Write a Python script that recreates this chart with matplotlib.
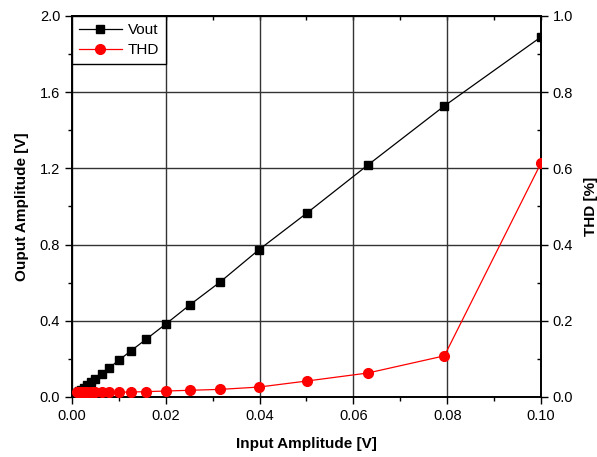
import matplotlib
matplotlib.use('Agg')
import matplotlib.pyplot as plt
from matplotlib.ticker import MultipleLocator, FormatStrFormatter, NullLocator

plt.rcParams['font.family'] = ['Liberation Sans', 'DejaVu Sans']

# input amplitude sweep [V]
vin = [0.001, 0.00126, 0.00158, 0.002, 0.00251, 0.00316, 0.00398, 0.00501,
       0.00631, 0.00794, 0.01, 0.0126, 0.0158, 0.02, 0.0251, 0.0316, 0.0398,
       0.0501, 0.0631, 0.0794, 0.1]
# output amplitude [V]
vout = [0.019, 0.024, 0.030, 0.038, 0.048, 0.061, 0.077, 0.097, 0.121, 0.153,
        0.193, 0.243, 0.303, 0.383, 0.483, 0.604, 0.772, 0.966, 1.218, 1.528,
        1.89]
# THD [%]
thd = [0.013, 0.013, 0.013, 0.013, 0.013, 0.013, 0.013, 0.013, 0.013, 0.0125,
       0.0126, 0.0131, 0.014, 0.0157, 0.0176, 0.020, 0.026, 0.042, 0.063,
       0.108, 0.614]

fig = plt.figure(figsize=(5.97, 4.57), dpi=100)
ax = fig.add_axes([0.1206, 0.1313, 0.7856, 0.8337])
ax2 = ax.twinx()

l1, = ax.plot(vin, vout, '-s', color='black', lw=0.9, ms=6, label='Vout', zorder=3)
l2, = ax2.plot(vin, thd, '-o', color='red', mec='red', lw=0.9, ms=7, label='THD', zorder=3)

ax.set_xlim(0, 0.1)
ax.set_ylim(0, 2.0)
ax2.set_ylim(0, 1.0)

ax.xaxis.set_major_locator(MultipleLocator(0.02))
ax.xaxis.set_minor_locator(MultipleLocator(0.01))
ax.yaxis.set_major_locator(MultipleLocator(0.4))
ax.yaxis.set_minor_locator(MultipleLocator(0.2))
ax2.yaxis.set_major_locator(MultipleLocator(0.2))
ax2.yaxis.set_minor_locator(MultipleLocator(0.1))
ax.xaxis.set_major_formatter(FormatStrFormatter('%.2f'))
ax.yaxis.set_major_formatter(FormatStrFormatter('%.1f'))
ax2.yaxis.set_major_formatter(FormatStrFormatter('%.1f'))

ax.grid(True, which='major', color='#333333', lw=1.0)
ax.set_axisbelow(True)

ax.tick_params(axis='both', which='major', direction='out', length=5, width=1,
               labelsize=10.5, top=False)
ax.tick_params(axis='both', which='minor', direction='out', length=3, width=1, top=False)
ax2.tick_params(axis='y', which='major', direction='out', length=5, width=1, labelsize=10.5)
ax2.tick_params(axis='y', which='minor', direction='in', length=3, width=1)

# inward minor ticks along the top edge
top = ax.secondary_xaxis('top')
top.xaxis.set_major_locator(NullLocator())
top.xaxis.set_minor_locator(MultipleLocator(0.01))
top.tick_params(which='minor', direction='in', length=3, width=1)
top.spines['top'].set_linewidth(1.2)

for a in (ax, ax2):
    for s in a.spines.values():
        s.set_linewidth(1.2)

ax.set_xlabel('Input Amplitude [V]', fontsize=11, fontweight='bold', labelpad=10)
ax.set_ylabel('Ouput Amplitude [V]', fontsize=11, fontweight='bold', labelpad=8)
ax2.set_ylabel('THD [%]', fontsize=11, fontweight='bold', labelpad=8)

leg = ax.legend(handles=[l1, l2], loc='upper left', fontsize=11, fancybox=False,
                edgecolor='black', framealpha=1, borderaxespad=0.0,
                handlelength=2.8, handletextpad=0.4, borderpad=0.45, labelspacing=0.4)
leg.get_frame().set_linewidth(1.0)
leg.set_zorder(5)

plt.savefig('out.png', dpi=100)
